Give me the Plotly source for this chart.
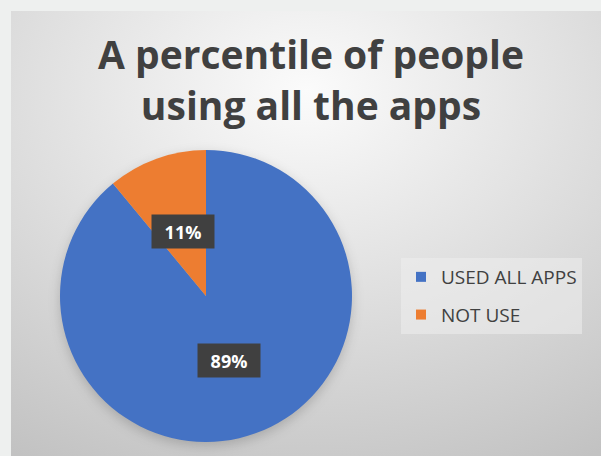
import base64
import math

import plotly.graph_objects as go

# Chart data
categories = ["USED ALL APPS", "NOT USE"]
shares = [89, 11]
slice_colors = ["#4472C4", "#ED7D31"]
title_lines = ["A percentile of people", "using all the apps"]

# Canvas and pie geometry (pixels)
W, H = 601, 456
FRAME = 11
CX, CY, R = 206, 296, 146
LABEL_RADIUS = 0.47


def px_to_paper(px, py):
    return px / W, 1 - py / H


# Soft grey radial backdrop for the chart area
bg_w, bg_h = W - FRAME, H - FRAME
svg = (
    f'<svg xmlns="http://www.w3.org/2000/svg" width="{bg_w}" height="{bg_h}">'
    '<defs><radialGradient id="g" cx="0.5" cy="0.18" r="0.95">'
    '<stop offset="0" stop-color="#fbfbfb"/>'
    '<stop offset="0.55" stop-color="#dcdcdc"/>'
    '<stop offset="1" stop-color="#c2c2c2"/>'
    '</radialGradient>'
    '<filter id="b"><feGaussianBlur stdDeviation="6"/></filter></defs>'
    f'<rect width="{bg_w}" height="{bg_h}" fill="url(#g)"/>'
    f'<circle cx="{CX - FRAME}" cy="{CY - FRAME + 4}" r="{R}" fill="#000" '
    'fill-opacity="0.18" filter="url(#b)"/>'
    '</svg>'
)
bg_uri = "data:image/svg+xml;base64," + base64.b64encode(svg.encode()).decode()

fig = go.Figure()

dx0, dy0 = px_to_paper(CX - R, CY + R)
dx1, dy1 = px_to_paper(CX + R, CY - R)
fig.add_trace(
    go.Pie(
        labels=categories,
        values=shares,
        sort=False,
        direction="clockwise",
        rotation=0,
        marker=dict(colors=slice_colors, line=dict(width=0)),
        textinfo="none",
        hoverinfo="label+percent",
        showlegend=False,
        domain=dict(x=[dx0, dx1], y=[dy0, dy1]),
    )
)

# Legend entries, one group each so the items can be spaced apart
for name, color in zip(categories, slice_colors):
    fig.add_trace(
        go.Scatter(
            x=[None], y=[None], mode="markers", name=name, legendgroup=name,
            marker=dict(symbol="square", size=10, color=color),
            hoverinfo="skip",
        )
    )

# Percentage labels placed at the middle angle of each slice
total = sum(shares)
annotations = []
cum = 0
for value in shares:
    mid = math.radians((cum + value / 2) / total * 360)
    cum += value
    px = CX + LABEL_RADIUS * R * math.sin(mid)
    py = CY - LABEL_RADIUS * R * math.cos(mid)
    ax, ay = px_to_paper(px, py)
    annotations.append(
        dict(
            x=ax, y=ay, xref="paper", yref="paper", showarrow=False,
            text=f"{round(value / total * 100)}%",
            font=dict(family="Open Sans", size=18, color="#ffffff", weight="bold"),
            bgcolor="#404040", width=54, height=25, borderpad=4,
            xanchor="center", yanchor="middle",
        )
    )

# Two-line chart title
tx, ty = px_to_paper(311, 79)
annotations.append(
    dict(
        x=tx, y=ty, xref="paper", yref="paper", showarrow=False,
        text="<br>".join(title_lines),
        font=dict(family="Open Sans", size=39, color="#404040", weight="bold"),
        xanchor="center", yanchor="middle", align="center",
    )
)

fig.update_layout(
    width=W,
    height=H,
    margin=dict(l=0, r=0, t=0, b=0),
    paper_bgcolor="#eef0ef",
    plot_bgcolor="rgba(0,0,0,0)",
    xaxis=dict(visible=False),
    yaxis=dict(visible=False),
    legend=dict(
        x=401 / W, y=1 - 258 / H, xanchor="left", yanchor="top",
        traceorder="grouped", tracegroupgap=10,
        font=dict(family="Open Sans", size=19, color="#404040"),
        bgcolor="rgba(238,238,238,0.55)",
        itemwidth=30,
    ),
    images=[
        dict(
            source=bg_uri, xref="paper", yref="paper",
            x=FRAME / W, y=1 - FRAME / H, sizex=bg_w / W, sizey=bg_h / H,
            xanchor="left", yanchor="top", sizing="stretch", layer="below",
        )
    ],
    annotations=annotations,
    showlegend=True,
)

fig.write_html("out.html")
